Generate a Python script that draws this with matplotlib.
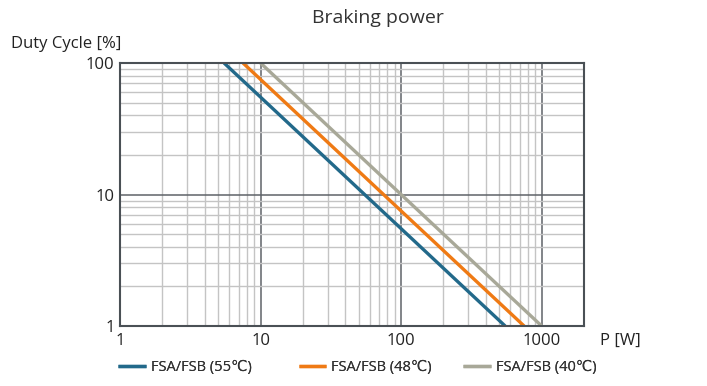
import numpy as np
from matplotlib import pyplot as plt
from matplotlib.ticker import LogLocator, NullFormatter, FixedLocator, FixedFormatter

plt.rcParams['font.family'] = ['Open Sans', 'DejaVu Sans']

# power at 100 % and at 1 % duty cycle
p_55 = [5.5, 550]
p_48 = [7.5, 750]
p_40 = [10, 1000]
duty = [100, 1]

labels = ['FSA/FSB (55\u2103)', 'FSA/FSB (48\u2103)', 'FSA/FSB (40\u2103)']
colors = ['#22698a', '#ef7a14', '#a8a898']

xticks = [1, 10, 100, 1000]
yticks = [1, 10, 100]

fig = plt.figure(figsize=(7.07, 3.86), dpi=100)
ax = fig.add_axes([0.1697, 0.1554, 0.6563, 0.6814])

lines = []
for p, lab, c in zip([p_55, p_48, p_40], labels, colors):
    ln, = ax.plot(p, duty, color=c, lw=2.4, label=lab, solid_capstyle='butt')
    lines.append(ln)

ax.set_xscale('log')
ax.set_yscale('log')
ax.set_xlim(1, 2000)
ax.set_ylim(1, 100)

ax.xaxis.set_major_locator(FixedLocator(xticks))
ax.xaxis.set_major_formatter(FixedFormatter([str(v) for v in xticks]))
ax.yaxis.set_major_locator(FixedLocator(yticks))
ax.yaxis.set_major_formatter(FixedFormatter([str(v) for v in yticks]))
ax.xaxis.set_minor_locator(LogLocator(base=10, subs=np.arange(2, 10), numticks=20))
ax.yaxis.set_minor_locator(LogLocator(base=10, subs=np.arange(2, 10), numticks=20))
ax.xaxis.set_minor_formatter(NullFormatter())
ax.yaxis.set_minor_formatter(NullFormatter())

ax.grid(which='minor', color='#c4c4c4', lw=1.0)
ax.grid(which='major', color='#5f6368', lw=1.1)
ax.set_axisbelow(True)
ax.tick_params(which='both', length=0, labelsize=12, colors='#222222')
ax.tick_params(axis='x', pad=5)
ax.tick_params(axis='y', pad=4)
for s in ax.spines.values():
    s.set_color('#4a5055')
    s.set_linewidth(1.5)

fig.text(0.535, 0.953, 'Braking power', ha='center', va='center', fontsize=14, color='#333333')
fig.text(0.016, 0.885, 'Duty Cycle [%]', ha='left', va='center', fontsize=12, color='#222222')
fig.text(0.848, 0.118, 'P [W]', ha='left', va='center', fontsize=12, color='#222222')

# one legend entry each, spaced like the original
for ln, lab, xpos in zip(lines, labels, [0.149, 0.404, 0.637]):
    leg = fig.legend([ln], [lab], loc='center left', bbox_to_anchor=(xpos, 0.048),
                     frameon=False, fontsize=10.5, handlelength=1.9, handletextpad=0.33,
                     labelcolor='#333333')
    fig.add_artist(leg)

fig.savefig('out.png', dpi=100)
